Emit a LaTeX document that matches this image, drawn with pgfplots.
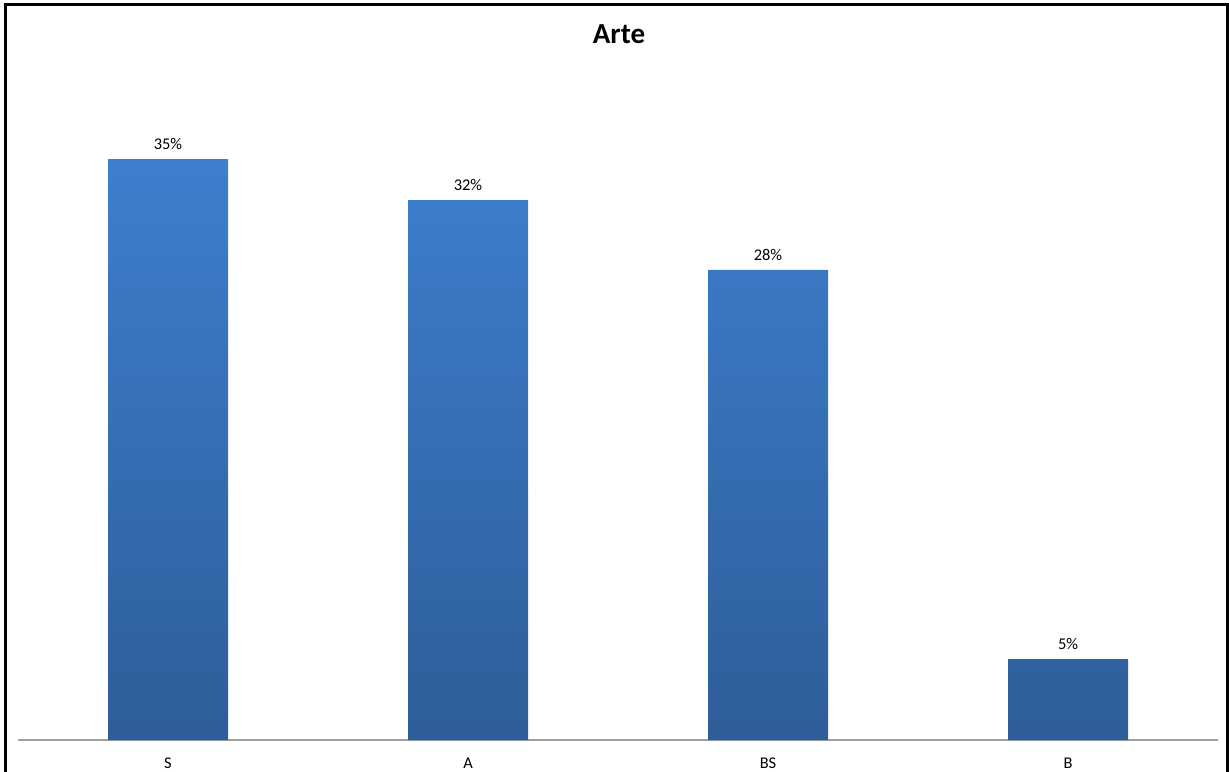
\documentclass[border=0pt]{standalone}
\usepackage{pgfplots}
\pgfplotsset{compat=1.18}
\usepackage{fontspec}
\setmainfont{Carlito}
\definecolor{bartop}{RGB}{61,127,206}
\definecolor{barbot}{RGB}{46,93,153}
\definecolor{axisgray}{RGB}{160,160,160}
\begin{document}
\begin{tikzpicture}[x=1pt,y=1pt]
\useasboundingbox (-9,-15.5) rectangle (605.5,370);
\draw[line width=1.5pt] (-6,-25) rectangle (604.5,367.5);
\begin{axis}[at={(0,0)}, anchor=south west, scale only axis,
  width=600pt, height=320pt,
  xmin=-0.5, xmax=3.5, ymin=0, ymax=38.095,
  axis y line=none, axis x line*=bottom,
  x axis line style={draw=axisgray, line width=0.6pt, -},
  xtick={0,1,2,3}, xticklabels={S,A,BS,B},
  major tick length=0pt, xtick style={draw=none},
  /pgf/number format/assume math mode=true,
  xticklabel style={font=\fontsize{8.2}{10}\selectfont, yshift=-5.5pt},
  nodes near coords={\pgfmathprintnumber[fixed,precision=0,assume math mode=true]{\pgfplotspointmeta}\%},
  nodes near coords style={font=\fontsize{8.2}{10}\selectfont, black, yshift=1pt},
  clip=false]
\addplot[ybar, bar width=60pt, draw=none, top color=bartop, bottom color=barbot]
  coordinates {(0,34.58) (1,32.14) (2,27.98) (3,4.82)};
\end{axis}
\node[font=\bfseries\fontsize{14.5}{17}\selectfont] at (300.5,353) {Arte};
\end{tikzpicture}
\end{document}
